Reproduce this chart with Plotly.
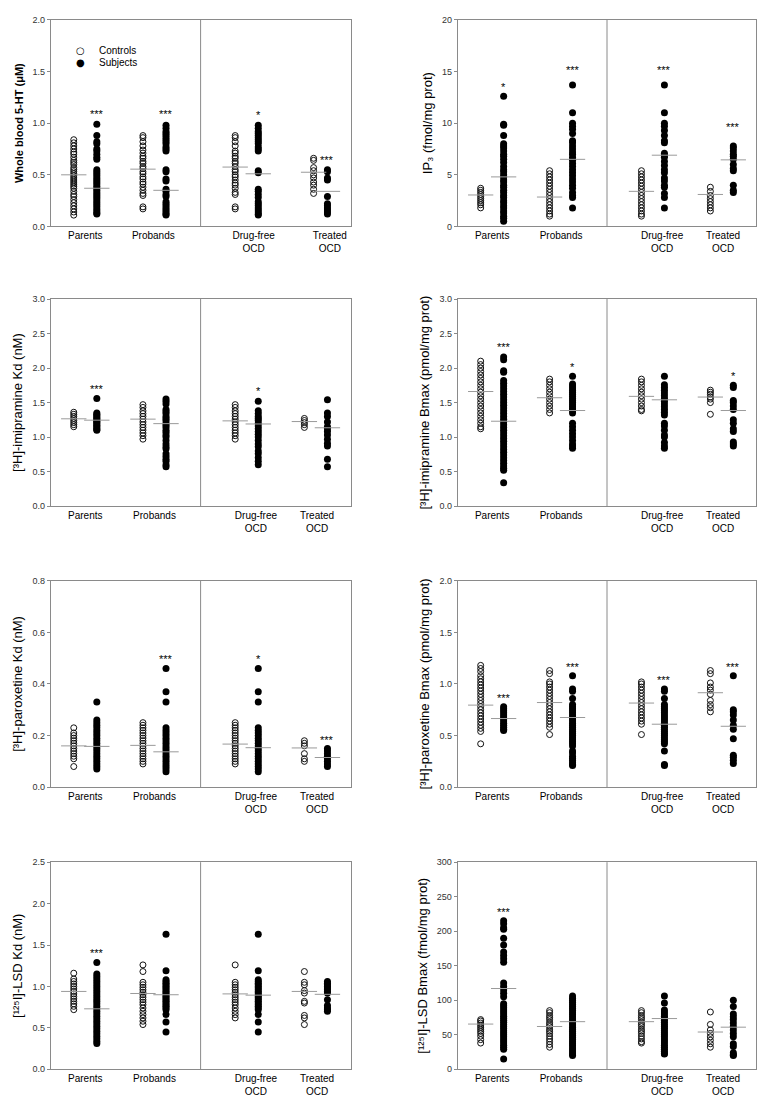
import plotly.graph_objects as go

# ---------------- DATA ----------------
groups = ["Parents", "Probands", "Drug-free<br>OCD", "Treated<br>OCD"]
legend_names = ["Controls", "Subjects"]

# Panel 1: Whole blood 5-HT (uM)
ht_controls = [
    [0.84,0.81,0.78,0.75,0.72,0.70,0.67,0.64,0.62,0.60,0.57,0.55,0.53,0.51,0.49,0.47,0.45,0.43,0.41,0.39,0.37,0.34,0.31,0.29,0.26,0.23,0.20,0.17,0.14,0.11],
    [0.88,0.86,0.82,0.78,0.74,0.71,0.68,0.66,0.63,0.61,0.58,0.56,0.53,0.51,0.48,0.46,0.43,0.41,0.38,0.35,0.32,0.30,0.19,0.17],
    [0.88,0.86,0.82,0.78,0.73,0.71,0.68,0.66,0.63,0.61,0.58,0.55,0.53,0.50,0.48,0.45,0.42,0.40,0.37,0.33,0.31,0.19,0.17],
    [0.66,0.64,0.57,0.54,0.50,0.47,0.43,0.40,0.36,0.32],
]
ht_subjects = [
    [0.99,0.88,0.82,0.80,0.75,0.73,0.70,0.67,0.65,0.55,0.53,0.51,0.49,0.47,0.45,0.43,0.41,0.39,0.37,0.35,0.33,0.31,0.29,0.27,0.25,0.23,0.21,0.19,0.17,0.15,0.13,0.12],
    [0.98,0.95,0.92,0.90,0.88,0.86,0.84,0.82,0.80,0.77,0.75,0.73,0.55,0.53,0.46,0.44,0.36,0.34,0.31,0.29,0.24,0.22,0.20,0.18,0.16,0.14,0.12,0.11],
    [0.98,0.95,0.92,0.90,0.88,0.86,0.84,0.82,0.80,0.77,0.75,0.73,0.54,0.52,0.36,0.34,0.31,0.28,0.24,0.22,0.20,0.18,0.16,0.14,0.12,0.11],
    [0.55,0.53,0.47,0.45,0.29,0.22,0.20,0.18,0.16,0.14,0.12],
]
ht_ctrl_means = [0.50, 0.555, 0.575, 0.525]
ht_subj_means = [0.37, 0.35, 0.51, 0.34]
ht_stars = ["***", "***", "*", "***"]
ht_star_y = [1.11, 1.11, 1.10, 0.665]

# Panel 2: IP3 (fmol/mg prot)
ip3_controls = [
    [3.7,3.5,3.3,3.1,2.9,2.7,2.5,2.3,2.1,1.8],
    [5.4,5.1,4.8,4.5,4.2,3.9,3.6,3.3,3.0,2.7,2.4,2.1,1.8,1.5,1.2,1.0],
    [5.4,5.1,4.8,4.5,4.2,3.9,3.6,3.3,3.0,2.7,2.4,2.1,1.8,1.5,1.2,1.0],
    [3.8,3.4,3.0,2.7,2.4,2.1,1.8,1.5],
]
ip3_subjects = [
    [12.6,9.9,9.8,8.8,8.0,7.8,7.6,7.3,7.0,6.8,6.5,6.2,5.8,5.5,5.3,5.0,4.8,4.5,4.3,4.0,3.8,3.5,3.3,3.0,2.8,2.5,2.3,2.0,1.8,1.5,1.3,1.0,0.8,0.5],
    [13.7,11.0,10.0,9.7,9.4,9.0,8.3,8.1,7.8,7.5,7.2,7.0,6.7,6.4,6.1,5.8,5.5,5.2,4.9,4.6,4.3,4.0,3.7,3.3,3.0,2.8,1.8],
    [13.7,11.0,10.0,9.7,9.3,8.8,8.3,8.1,7.1,6.9,6.7,6.3,5.9,5.5,5.2,4.7,4.4,4.0,3.8,3.2,2.8,1.8],
    [7.8,7.6,7.3,7.0,6.8,6.5,6.0,5.6,5.4,4.0,3.5,3.3],
]
ip3_ctrl_means = [3.05, 2.85, 3.4, 3.1]
ip3_subj_means = [4.8, 6.5, 6.9, 6.45]
ip3_stars = ["*", "***", "***", "***"]
ip3_star_y = [13.7, 15.3, 15.3, 9.8]

# Panel 3: [3H]-imipramine Kd (nM)
imkd_controls = [
    [1.36,1.33,1.30,1.27,1.24,1.21,1.18,1.15],
    [1.47,1.43,1.38,1.34,1.30,1.26,1.22,1.18,1.14,1.10,1.06,1.02,0.97],
    [1.47,1.43,1.38,1.34,1.30,1.26,1.22,1.18,1.14,1.10,1.06,1.02,0.97],
    [1.27,1.24,1.21,1.18,1.14],
]
imkd_subjects = [
    [1.56,1.35,1.33,1.31,1.29,1.27,1.25,1.23,1.21,1.19,1.17,1.15,1.13,1.11,1.10],
    [1.55,1.52,1.48,1.40,1.37,1.34,1.30,1.27,1.24,1.20,1.17,1.14,1.10,1.07,1.03,1.00,0.95,0.90,0.86,0.83,0.76,0.72,0.68,0.65,0.60,0.57],
    [1.52,1.38,1.34,1.30,1.27,1.24,1.20,1.16,1.12,1.08,1.04,1.00,0.95,0.90,0.86,0.80,0.76,0.70,0.65,0.60],
    [1.54,1.35,1.30,1.22,1.15,1.12,1.08,1.03,0.97,0.91,0.87,0.68,0.57],
]
imkd_ctrl_means = [1.265, 1.26, 1.235, 1.225]
imkd_subj_means = [1.245, 1.195, 1.19, 1.135]
imkd_stars = ["***", "", "*", ""]
imkd_star_y = [1.72, None, 1.69, None]

# Panel 4: [3H]-imipramine Bmax (pmol/mg prot)
imbm_controls = [
    [2.10,2.05,2.00,1.95,1.90,1.85,1.80,1.75,1.70,1.65,1.60,1.55,1.50,1.45,1.40,1.35,1.30,1.25,1.20,1.15,1.12],
    [1.84,1.80,1.75,1.70,1.65,1.60,1.55,1.50,1.45,1.40,1.35],
    [1.84,1.80,1.75,1.70,1.65,1.60,1.55,1.50,1.45,1.40,1.38],
    [1.68,1.65,1.62,1.58,1.55,1.50,1.33],
]
imbm_subjects = [
    [2.16,2.12,1.96,1.94,1.82,1.78,1.74,1.70,1.66,1.62,1.58,1.54,1.50,1.46,1.42,1.38,1.34,1.30,1.26,1.22,1.18,1.14,1.10,1.06,1.02,0.98,0.94,0.90,0.86,0.82,0.78,0.74,0.70,0.66,0.62,0.58,0.55,0.52,0.34],
    [1.88,1.77,1.74,1.71,1.68,1.65,1.62,1.59,1.56,1.53,1.50,1.47,1.44,1.41,1.38,1.35,1.20,1.15,1.10,1.05,1.00,0.95,0.90,0.87,0.84],
    [1.88,1.76,1.72,1.68,1.64,1.60,1.56,1.52,1.48,1.44,1.40,1.36,1.32,1.20,1.16,1.10,1.03,1.00,0.92,0.87,0.84],
    [1.75,1.72,1.53,1.50,1.45,1.40,1.25,1.20,1.12,1.08,0.93,0.90,0.87],
]
imbm_ctrl_means = [1.66, 1.57, 1.59, 1.58]
imbm_subj_means = [1.23, 1.385, 1.54, 1.385]
imbm_stars = ["***", "*", "", "*"]
imbm_star_y = [2.34, 2.05, None, 1.91]

# Panel 5: [3H]-paroxetine Kd (nM)
pxkd_controls = [
    [0.23,0.21,0.20,0.19,0.18,0.17,0.16,0.15,0.14,0.13,0.12,0.11,0.08],
    [0.25,0.24,0.23,0.22,0.21,0.20,0.19,0.18,0.17,0.16,0.15,0.14,0.13,0.12,0.11,0.10,0.09],
    [0.25,0.24,0.23,0.22,0.21,0.20,0.19,0.18,0.17,0.16,0.15,0.14,0.13,0.12,0.11,0.10,0.09],
    [0.18,0.17,0.16,0.13,0.11,0.10],
]
pxkd_subjects = [
    [0.33,0.26,0.25,0.24,0.23,0.22,0.21,0.20,0.19,0.18,0.17,0.16,0.15,0.14,0.13,0.12,0.11,0.10,0.09,0.08,0.07],
    [0.46,0.37,0.33,0.23,0.22,0.21,0.20,0.19,0.18,0.17,0.16,0.15,0.14,0.13,0.12,0.11,0.10,0.09,0.08,0.07,0.06],
    [0.46,0.37,0.33,0.23,0.22,0.21,0.20,0.19,0.18,0.17,0.16,0.15,0.14,0.13,0.12,0.11,0.10,0.09,0.08,0.07,0.06],
    [0.15,0.14,0.13,0.12,0.11,0.10,0.09,0.08],
]
pxkd_ctrl_means = [0.16, 0.162, 0.167, 0.152]
pxkd_subj_means = [0.158, 0.137, 0.153, 0.115]
pxkd_stars = ["", "***", "*", "***"]
pxkd_star_y = [None, 0.506, 0.506, 0.192]

# Panel 6: [3H]-paroxetine Bmax (pmol/mg prot)
pxbm_controls = [
    [1.18,1.15,1.12,1.08,1.05,1.02,0.99,0.96,0.93,0.90,0.87,0.84,0.81,0.78,0.75,0.72,0.69,0.66,0.63,0.60,0.57,0.54,0.42],
    [1.13,1.10,1.02,1.00,0.97,0.94,0.91,0.88,0.85,0.82,0.79,0.76,0.73,0.70,0.67,0.64,0.61,0.58,0.51],
    [1.02,1.00,0.97,0.94,0.91,0.88,0.85,0.82,0.79,0.76,0.73,0.70,0.67,0.64,0.61,0.51],
    [1.13,1.10,1.01,0.97,0.94,0.90,0.84,0.80,0.77,0.73],
]
pxbm_subjects = [
    [0.78,0.76,0.74,0.72,0.70,0.68,0.66,0.64,0.62,0.60,0.58,0.56,0.55],
    [1.08,0.95,0.93,0.86,0.80,0.78,0.76,0.74,0.72,0.70,0.68,0.66,0.64,0.62,0.60,0.58,0.56,0.54,0.52,0.50,0.48,0.46,0.44,0.42,0.40,0.35,0.33,0.30,0.28,0.26,0.24,0.22,0.21],
    [0.95,0.93,0.86,0.80,0.78,0.76,0.74,0.72,0.70,0.68,0.66,0.64,0.62,0.60,0.58,0.56,0.54,0.52,0.50,0.48,0.46,0.44,0.42,0.35,0.22,0.21],
    [1.08,0.75,0.73,0.70,0.65,0.60,0.56,0.47,0.31,0.29,0.26,0.23],
]
pxbm_ctrl_means = [0.795, 0.82, 0.815, 0.915]
pxbm_subj_means = [0.665, 0.675, 0.61, 0.59]
pxbm_stars = ["***", "***", "***", "***"]
pxbm_star_y = [0.88, 1.18, 1.056, 1.18]

# Panel 7: [125I]-LSD Kd (nM)
lskd_controls = [
    [1.16,1.09,1.06,1.03,1.00,0.97,0.94,0.91,0.88,0.85,0.82,0.79,0.76,0.72],
    [1.26,1.18,1.05,1.02,0.99,0.96,0.93,0.90,0.87,0.84,0.81,0.78,0.74,0.70,0.66,0.62,0.58,0.54],
    [1.26,1.05,1.02,0.99,0.96,0.93,0.90,0.87,0.84,0.81,0.78,0.74,0.70,0.66,0.62],
    [1.18,1.05,1.02,0.95,0.92,0.82,0.80,0.65,0.62,0.54],
]
lskd_subjects = [
    [1.29,1.15,1.12,1.09,1.06,1.03,1.00,0.97,0.94,0.91,0.88,0.85,0.82,0.79,0.76,0.73,0.70,0.67,0.64,0.61,0.58,0.55,0.52,0.49,0.46,0.43,0.40,0.37,0.34,0.31],
    [1.63,1.19,1.08,1.06,1.04,1.02,1.00,0.98,0.96,0.94,0.92,0.90,0.88,0.86,0.84,0.82,0.80,0.78,0.76,0.74,0.72,0.66,0.57,0.45],
    [1.63,1.19,1.08,1.06,1.04,1.02,1.00,0.98,0.96,0.94,0.92,0.90,0.88,0.86,0.84,0.82,0.80,0.78,0.76,0.74,0.72,0.66,0.57,0.45],
    [1.06,1.04,1.02,1.00,0.98,0.96,0.94,0.92,0.84,0.77,0.74,0.72,0.70],
]
lskd_ctrl_means = [0.94, 0.915, 0.91, 0.94]
lskd_subj_means = [0.73, 0.90, 0.895, 0.905]
lskd_stars = ["***", "", "", ""]
lskd_star_y = [1.425, None, None, None]

# Panel 8: [125I]-LSD Bmax (fmol/mg prot)
lsbm_controls = [
    [72,70,67,64,61,58,55,52,48,43,38],
    [85,82,78,75,72,68,65,62,58,55,52,48,44,40,36,32],
    [85,82,78,75,72,68,65,62,58,55,52,48,44,40,38],
    [83,65,57,52,47,42,37,32],
]
lsbm_subjects = [
    [215,211,205,203,190,180,170,165,160,155,125,120,115,110,105,95,92,89,86,83,80,77,74,71,68,65,62,59,56,53,50,47,44,41,38,35,32,29,15],
    [106,103,100,97,94,91,88,85,82,79,76,73,70,67,64,61,58,55,52,49,46,43,40,37,34,31,28,25,22,20],
    [106,96,86,83,80,77,74,71,68,65,62,59,56,53,50,47,44,41,38,35,32,29,26,23,22],
    [100,91,80,76,72,67,62,57,52,47,37,33,24,21,20],
]
lsbm_ctrl_means = [65.5, 62, 69, 54]
lsbm_subj_means = [117, 69, 73.5, 61]
lsbm_stars = ["***", "", "", ""]
lsbm_star_y = [231, None, None, None]

panels = [
    dict(title="<b>Whole blood 5-HT (\u03bcM)</b>", ymax=2.0, dtick=0.5, fmt=".1f",
         c=ht_controls, s=ht_subjects, cm=ht_ctrl_means, sm=ht_subj_means, st=ht_stars, sty=ht_star_y),
    dict(title="IP\u2083 (fmol/mg prot)", ymax=20, dtick=5, fmt="d",
         c=ip3_controls, s=ip3_subjects, cm=ip3_ctrl_means, sm=ip3_subj_means, st=ip3_stars, sty=ip3_star_y),
    dict(title="[\u00b3H]-imipramine Kd (nM)", ymax=3.0, dtick=0.5, fmt=".1f",
         c=imkd_controls, s=imkd_subjects, cm=imkd_ctrl_means, sm=imkd_subj_means, st=imkd_stars, sty=imkd_star_y),
    dict(title="[\u00b3H]-imipramine Bmax (pmol/mg prot)", ymax=3.0, dtick=0.5, fmt=".1f",
         c=imbm_controls, s=imbm_subjects, cm=imbm_ctrl_means, sm=imbm_subj_means, st=imbm_stars, sty=imbm_star_y),
    dict(title="[\u00b3H]-paroxetine Kd (nM)", ymax=0.8, dtick=0.2, fmt=".1f",
         c=pxkd_controls, s=pxkd_subjects, cm=pxkd_ctrl_means, sm=pxkd_subj_means, st=pxkd_stars, sty=pxkd_star_y),
    dict(title="[\u00b3H]-paroxetine Bmax (pmol/mg prot)", ymax=2.0, dtick=0.5, fmt=".1f",
         c=pxbm_controls, s=pxbm_subjects, cm=pxbm_ctrl_means, sm=pxbm_subj_means, st=pxbm_stars, sty=pxbm_star_y),
    dict(title="[\u00b9\u00b2\u2075I]-LSD Kd (nM)", ymax=2.5, dtick=0.5, fmt=".1f",
         c=lskd_controls, s=lskd_subjects, cm=lskd_ctrl_means, sm=lskd_subj_means, st=lskd_stars, sty=lskd_star_y),
    dict(title="[\u00b9\u00b2\u2075I]-LSD Bmax (fmol/mg prot)", ymax=300, dtick=50, fmt="d",
         c=lsbm_controls, s=lsbm_subjects, cm=lsbm_ctrl_means, sm=lsbm_subj_means, st=lsbm_stars, sty=lsbm_star_y),
]

# ---------------- LAYOUT / STYLE ----------------
W, H = 768, 1107
FONT = "Arial, 'Liberation Sans', Helvetica, sans-serif"
col_px = [(50.7, 350.5), (457.7, 756.3)]
row_px = [(15, 223.5), (296.7, 505.7), (581, 789.3), (865, 1074)]
ctrl_pos = [1.0, 4.0, 8.0, 11.0]
subj_pos = [2.0, 5.0, 9.0, 12.0]
label_pos = [1.5, 4.5, 8.9, 11.55]
# first panel has a narrower "Treated" pair
ctrl_pos_p1 = [1.0, 4.0, 8.0, 11.4]
subj_pos_p1 = [2.0, 5.0, 9.0, 12.0]
label_pos_p1 = [1.5, 4.45, 8.8, 12.1]
divider_x = 6.5
half_w = 0.55
frame_col = "#8a8a8a"
mean_col = "#9a9a9a"

fig = go.Figure()
annotations = []
shapes = []

for i, p in enumerate(panels):
    r, c = divmod(i, 2)
    sfx = "" if i == 0 else str(i + 1)
    xa, ya = "x" + sfx, "y" + sfx
    cp = ctrl_pos_p1 if i == 0 else ctrl_pos
    sp = subj_pos_p1 if i == 0 else subj_pos
    lp = label_pos_p1 if i == 0 else label_pos

    for g in range(4):
        fig.add_trace(go.Scatter(
            x=[cp[g]] * len(p["c"][g]), y=p["c"][g], mode="markers",
            xaxis=xa, yaxis=ya, name=legend_names[0], showlegend=False,
            marker=dict(symbol="circle-open", size=6, color="#111111", line=dict(width=1)),
            hoverinfo="skip"))
        fig.add_trace(go.Scatter(
            x=[sp[g]] * len(p["s"][g]), y=p["s"][g], mode="markers",
            xaxis=xa, yaxis=ya, name=legend_names[1], showlegend=False,
            marker=dict(symbol="circle", size=7, color="#000000", line=dict(width=0)),
            hoverinfo="skip"))
    # mean lines
    mx, my = [], []
    for g in range(4):
        mx += [cp[g] - half_w, cp[g] + half_w, None, sp[g] - half_w, sp[g] + half_w, None]
        my += [p["cm"][g], p["cm"][g], None, p["sm"][g], p["sm"][g], None]
    fig.add_trace(go.Scatter(x=mx, y=my, mode="lines", xaxis=xa, yaxis=ya,
                             line=dict(color=mean_col, width=1), showlegend=False, hoverinfo="skip"))
    # significance stars
    for g in range(4):
        if p["st"][g]:
            annotations.append(dict(x=sp[g], y=p["sty"][g], xref=xa, yref=ya, text=p["st"][g],
                                    showarrow=False, yshift=-2,
                                    font=dict(size=11, color="#000", family=FONT)))
    shapes.append(dict(type="line", xref=xa, yref=ya + " domain", x0=divider_x, x1=divider_x,
                       y0=0, y1=1, line=dict(color=frame_col, width=1)))

    x0, x1 = col_px[c]
    t, b = row_px[r]
    fig.layout["xaxis" + sfx] = dict(
        domain=[x0 / W, x1 / W], range=[0, 13], anchor=ya,
        showline=True, mirror=True, linecolor=frame_col, linewidth=1,
        showgrid=False, zeroline=False, ticks="",
        tickmode="array", tickvals=lp, ticktext=groups,
        tickfont=dict(size=10, color="#000", family=FONT), fixedrange=True)
    fig.layout["yaxis" + sfx] = dict(
        domain=[1 - b / H, 1 - t / H], range=[0, p["ymax"]], anchor=xa,
        tick0=0, dtick=p["dtick"], tickformat=p["fmt"],
        showline=True, mirror=True, linecolor=frame_col, linewidth=1,
        ticks="outside", ticklen=3, tickcolor=frame_col, tickwidth=1,
        showgrid=False, zeroline=False,
        tickfont=dict(size=9, color="#333", family=FONT),
        title=dict(text=p["title"], standoff=6,
                   font=dict(size=11 if i == 0 else 13, color="#000", family=FONT)),
        fixedrange=True)

# Legend (drawn as text in the first panel, matching the reference's compact key)
legend_glyphs = ["\u25cb", "\u25cf"]
legend_rows_px = [45.7, 58.3]
for name, glyph, ypx in zip(legend_names, legend_glyphs, legend_rows_px):
    annotations.append(dict(x=80.7 / W, y=1 - ypx / H, xref="paper", yref="paper", text=glyph,
                            showarrow=False, xanchor="center", yanchor="middle",
                            font=dict(size=10, color="#000", family="DejaVu Sans")))
    annotations.append(dict(x=96.5 / W, y=1 - ypx / H, xref="paper", yref="paper", text=name,
                            showarrow=False, xanchor="left", yanchor="middle",
                            font=dict(size=10, color="#000", family=FONT)))

fig.update_layout(
    width=W, height=H, autosize=False,
    margin=dict(l=0, r=0, t=0, b=0),
    paper_bgcolor="white", plot_bgcolor="white",
    font=dict(family=FONT, color="#000"),
    showlegend=False,
    annotations=annotations, shapes=shapes,
)

fig.write_html("out.html", config={"displayModeBar": False},
               post_script="document.body.style.margin='0';")
